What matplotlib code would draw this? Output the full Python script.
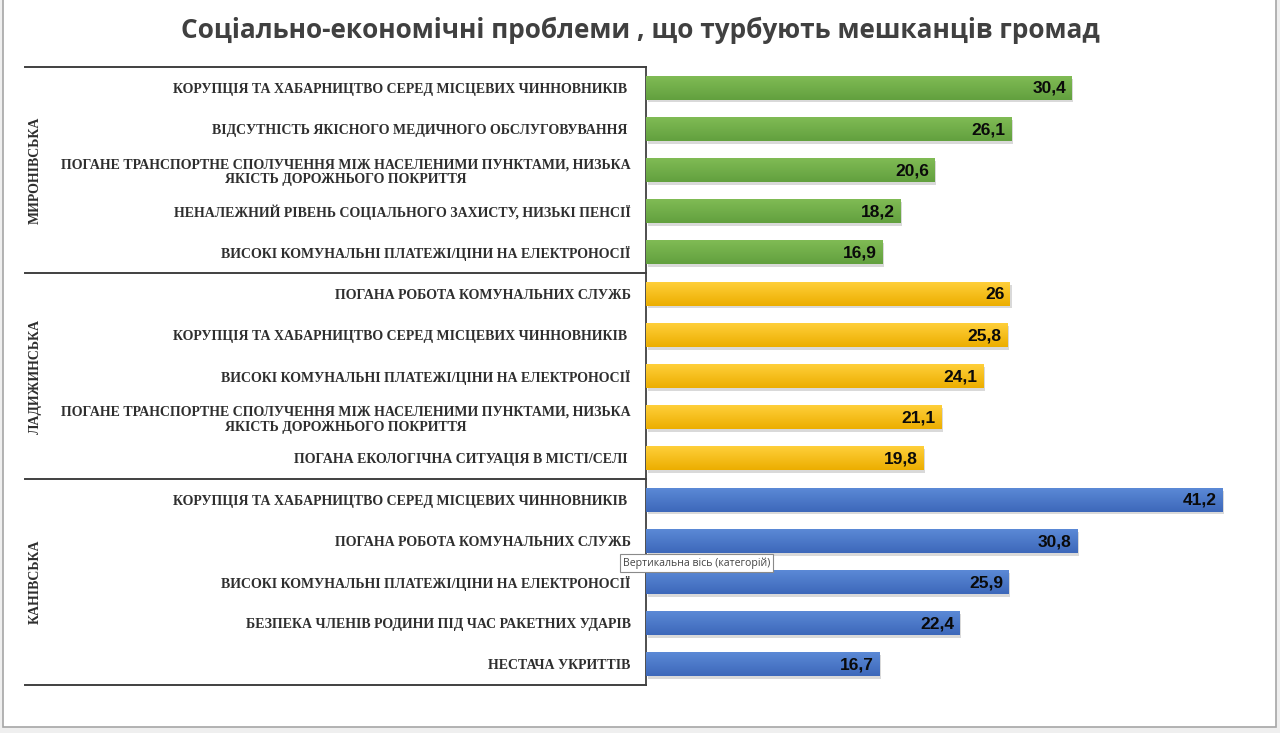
import matplotlib
matplotlib.use("Agg")
import matplotlib.pyplot as plt
import numpy as np
from matplotlib.patches import Rectangle
from matplotlib.colors import LinearSegmentedColormap

# ---------------- data ----------------
title = "Соціально-економічні проблеми , що турбують мешканців громад"
groups = ["МИРОНІВСЬКА", "ЛАДИЖИНСЬКА", "КАНІВСЬКА"]
labels_myr = [
    "КОРУПЦІЯ ТА ХАБАРНИЦТВО СЕРЕД МІСЦЕВИХ ЧИННОВНИКІВ ",
    "ВІДСУТНІСТЬ ЯКІСНОГО МЕДИЧНОГО ОБСЛУГОВУВАННЯ ",
    "ПОГАНЕ ТРАНСПОРТНЕ СПОЛУЧЕННЯ МІЖ НАСЕЛЕНИМИ ПУНКТАМИ, НИЗЬКА\nЯКІСТЬ ДОРОЖНЬОГО ПОКРИТТЯ",
    "НЕНАЛЕЖНИЙ РІВЕНЬ СОЦІАЛЬНОГО ЗАХИСТУ, НИЗЬКІ ПЕНСІЇ",
    "ВИСОКІ КОМУНАЛЬНІ ПЛАТЕЖІ/ЦІНИ НА ЕЛЕКТРОНОСІЇ",
]
values_myr = [30.4, 26.1, 20.6, 18.2, 16.9]
labels_lad = [
    "ПОГАНА РОБОТА КОМУНАЛЬНИХ СЛУЖБ",
    "КОРУПЦІЯ ТА ХАБАРНИЦТВО СЕРЕД МІСЦЕВИХ ЧИННОВНИКІВ ",
    "ВИСОКІ КОМУНАЛЬНІ ПЛАТЕЖІ/ЦІНИ НА ЕЛЕКТРОНОСІЇ",
    "ПОГАНЕ ТРАНСПОРТНЕ СПОЛУЧЕННЯ МІЖ НАСЕЛЕНИМИ ПУНКТАМИ, НИЗЬКА\nЯКІСТЬ ДОРОЖНЬОГО ПОКРИТТЯ",
    "ПОГАНА ЕКОЛОГІЧНА СИТУАЦІЯ В МІСТІ/СЕЛІ ",
]
values_lad = [26, 25.8, 24.1, 21.1, 19.8]
labels_kan = [
    "КОРУПЦІЯ ТА ХАБАРНИЦТВО СЕРЕД МІСЦЕВИХ ЧИННОВНИКІВ ",
    "ПОГАНА РОБОТА КОМУНАЛЬНИХ СЛУЖБ",
    "ВИСОКІ КОМУНАЛЬНІ ПЛАТЕЖІ/ЦІНИ НА ЕЛЕКТРОНОСІЇ",
    "БЕЗПЕКА ЧЛЕНІВ РОДИНИ ПІД ЧАС РАКЕТНИХ УДАРІВ",
    "НЕСТАЧА УКРИТТІВ",
]
values_kan = [41.2, 30.8, 25.9, 22.4, 16.7]
tooltip = "Вертикальна вісь (категорій)"

group_labels = [labels_myr, labels_lad, labels_kan]
group_values = [values_myr, values_lad, values_kan]
# gradient colours (top, bottom) per group
group_colors = [("#80bb55", "#62a03e"), ("#ffcf3a", "#ecae00"), ("#5b89d6", "#3d68ba")]

W, H = 1280, 733
fig = plt.figure(figsize=(W / 100, H / 100), dpi=100, facecolor="#efefef")

# white chart area with grey frame
fig.patches.append(Rectangle((3 / W, 1 - 727 / H), (1276 - 3) / W, 727 / H + 0.01,
                             transform=fig.transFigure, fc="white", ec="#a6a6a6", lw=1.2, zorder=-5))

ax = fig.add_axes([646 / W, 1 - 685 / H, 630 / W, (685 - 67) / H], zorder=2)
ax.set_facecolor("none")

all_labels = [l for g in group_labels for l in g]
all_values = [v for g in group_values for v in g]
n = len(all_values)
ypos = np.arange(n)

bh = 0.58
i = 0
for gi, (labs, vals) in enumerate(zip(group_labels, group_values)):
    top, bot = group_colors[gi]
    cmap = LinearSegmentedColormap.from_list("g%d" % gi, [top, bot])
    for v in vals:
        y = ypos[i]
        # soft shadow
        ax.barh(y + 0.07, v, height=bh, left=0.12, color="#000000", alpha=0.15, zorder=1, lw=0)
        bars = ax.barh(y, v, height=bh, color=bot, zorder=2, lw=0)
        patch = bars[0]
        grad = np.linspace(0, 1, 64).reshape(-1, 1)
        im = ax.imshow(grad, cmap=cmap, aspect="auto",
                       extent=(0, v, y + bh / 2, y - bh / 2), zorder=3, origin="upper")
        im.set_clip_path(patch)
        txt = ("%g" % v).replace(".", ",")
        ax.text(v - 0.4, y + 0.02, txt, ha="right", va="center", fontsize=12.5,
                fontweight="bold", family=["Liberation Sans Narrow", "Liberation Sans"],
                color="#0a0a0a", zorder=5)
        i += 1

ax.set_xlim(0, 45)
ax.set_ylim(n - 0.5, -0.5)

ax.set_yticks(ypos)
ax.set_yticklabels(all_labels, fontsize=10, fontweight="bold",
                   family=["Liberation Serif", "DejaVu Serif"], color="#2e2e2e")
for t in ax.get_yticklabels():
    t.set_multialignment("center")
    t.set_linespacing(1.2)
ax.tick_params(axis="y", length=0, pad=11)
ax.set_xticks([])
for s in ["top", "right", "bottom"]:
    ax.spines[s].set_visible(False)
ax.spines["left"].set_color("#404040")
ax.spines["left"].set_linewidth(1.3)

# group separator lines and group labels
yt = ax.get_yaxis_transform()
x_left = (25 - 646) / 630
for yb in [-0.5, 4.5, 9.5, 14.5]:
    ax.plot([x_left, 0], [yb, yb], transform=yt, color="#404040", lw=1.4, clip_on=False, zorder=6)
for gi, g in enumerate(groups):
    ax.text((35 - 646) / 630, gi * 5 + 2, g, transform=yt, rotation=90, ha="center", va="center",
            fontsize=10, fontweight="bold", family=["Liberation Serif", "DejaVu Serif"], color="#2e2e2e")

fig.text(640 / W, 1 - 30 / H, title, ha="center", va="center", fontsize=18.9,
         fontweight="bold", family=["Open Sans", "DejaVu Sans"], color="#404040")

fig.text(623 / W, 1 - 563 / H, tooltip, ha="left", va="center", fontsize=7.6,
         family=["Open Sans", "DejaVu Sans"], color="#444444", zorder=20,
         bbox=dict(boxstyle="square,pad=0.3", fc="white", ec="#8a8a8a", lw=0.8))

fig.savefig("out.png", dpi=100, facecolor=fig.get_facecolor())
